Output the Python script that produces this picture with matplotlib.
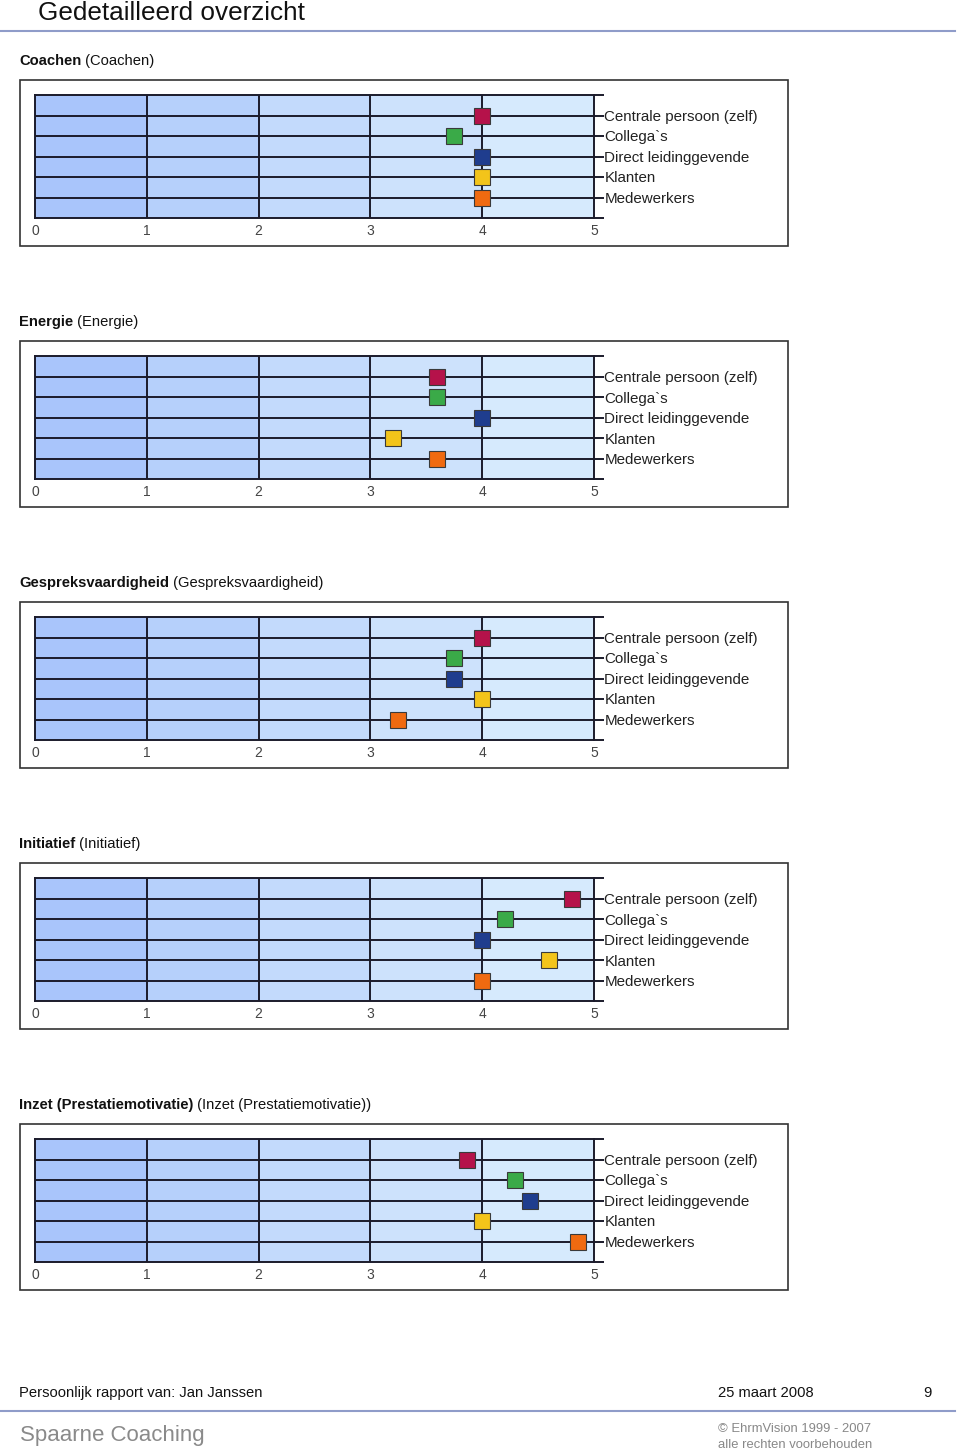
import matplotlib
matplotlib.use("Agg")
import matplotlib.pyplot as plt
from matplotlib.patches import Rectangle
from matplotlib.text import Annotation

plt.rcParams['font.family'] = ['Liberation Sans', 'DejaVu Sans']

# ---- data ----
titles_bold = ["Coachen", "Energie", "Gespreksvaardigheid", "Initiatief", "Inzet (Prestatiemotivatie)"]
titles_plain = ["(Coachen)", "(Energie)", "(Gespreksvaardigheid)", "(Initiatief)", "(Inzet (Prestatiemotivatie))"]
raters = ["Centrale persoon (zelf)", "Collega`s", "Direct leidinggevende", "Klanten", "Medewerkers"]
centrale = [4.0, 3.6, 4.0, 4.8, 3.86]
collegas = [3.75, 3.6, 3.75, 4.2, 4.29]
direct = [4.0, 4.0, 3.75, 4.0, 4.43]
klanten = [4.0, 3.2, 4.0, 4.6, 4.0]
medewerkers = [4.0, 3.6, 3.25, 4.0, 4.86]
x_ticks = [0, 1, 2, 3, 4, 5]

series = [centrale, collegas, direct, klanten, medewerkers]
marker_colors = ["#b5124a", "#3aaa48", "#1f3d8e", "#f3c41a", "#f06a10"]
band_colors = ["#a9c5fb", "#b6d0fb", "#c3dafc", "#cde2fc", "#d6eafd"]
line_col = "#1b1b2b"

W, H = 960, 1453
fig = plt.figure(figsize=(W / 100, H / 100), dpi=100)

def fx(px):
    return px / W

def fy(py):
    return 1 - py / H

# header
fig.text(fx(38), fy(13), "Gedetailleerd overzicht", fontsize=18.8, va='center', ha='left', color='#111')
fig.add_artist(plt.Line2D([0, fx(955)], [fy(31), fy(31)], color='#8f9cc9', lw=1.5))

step = 261
for i in range(5):
    off = i * step
    # title
    t = fig.text(fx(19), fy(61 + off), titles_bold[i], fontsize=10.6, fontweight='bold',
                 va='center', ha='left', color='#111')
    a = Annotation(" " + titles_plain[i], xy=(1, 0.5), xycoords=t, va='center', ha='left',
                   fontsize=10.6, color='#111')
    fig.add_artist(a)
    # outer box
    fig.add_artist(Rectangle((fx(20), fy(246 + off)), fx(788) - fx(20), fy(80) - fy(246),
                             transform=fig.transFigure, fill=False, edgecolor='#333', lw=1.2))
    # plot axes
    ax = fig.add_axes([fx(35), fy(218 + off), fx(594) - fx(35), fy(95) - fy(218)])
    ax.set_xlim(0, 5)
    ax.set_ylim(6, 0)
    for k in range(5):
        ax.axvspan(k, k + 1, color=band_colors[k], lw=0, zorder=0)
    for k in range(1, 5):
        ax.axvline(k, color=line_col, lw=1.4, zorder=1)
    for k in range(1, 6):
        ax.axhline(k, color=line_col, lw=1.4, zorder=1)
    for j, s in enumerate(series):
        ax.plot([s[i]], [j + 1], marker='s', markersize=11.5, color=marker_colors[j],
                markeredgecolor='#3a3a3a', markeredgewidth=0.8, linestyle='none', zorder=3)
    for sp in ax.spines.values():
        sp.set_color(line_col)
        sp.set_linewidth(1.4)
    ax.set_xticks(x_ticks)
    ax.set_xticklabels([str(v) for v in x_ticks], fontsize=10, color='#444')
    ax.tick_params(axis='x', length=0, pad=4)
    ax.yaxis.tick_right()
    ax.set_yticks(range(7))
    ax.set_yticklabels([""] + raters + [""], fontsize=10.9, color='#222')
    ax.tick_params(axis='y', length=7, width=1.4, color=line_col, pad=0.5, direction='out')
    ax.tick_params(axis='y', which='both', left=False)

# footer
fig.text(fx(19), fy(1393), "Persoonlijk rapport van: Jan Janssen", fontsize=10.6, va='center', ha='left', color='#111')
fig.text(fx(718), fy(1393), "25 maart 2008", fontsize=10.6, va='center', ha='left', color='#111')
fig.text(fx(923), fy(1393), "9", fontsize=10.6, va='center', ha='left', color='#111')
fig.add_artist(plt.Line2D([0, fx(955)], [fy(1411), fy(1411)], color='#8f9cc9', lw=1.5))
fig.text(fx(20), fy(1436), "Spaarne Coaching", fontsize=16, va='center', ha='left', color='#8a8a8a')
fig.text(fx(718), fy(1429), "© EhrmVision 1999 - 2007", fontsize=9.4, va='center', ha='left', color='#888')
fig.text(fx(718), fy(1445), "alle rechten voorbehouden", fontsize=9.4, va='center', ha='left', color='#888')

fig.savefig("out.png", dpi=100, facecolor='white')
